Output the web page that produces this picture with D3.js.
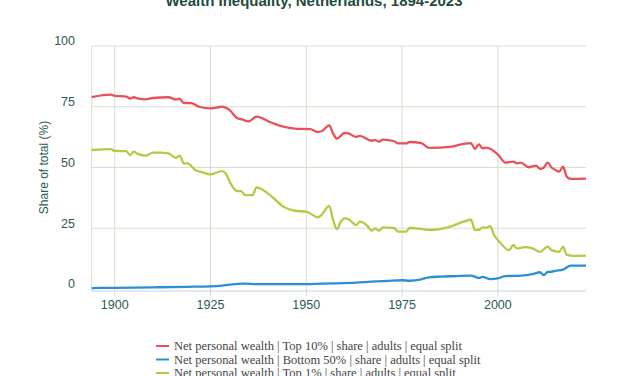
<!DOCTYPE html>
<html><head><meta charset="utf-8">
<script src="https://cdn.jsdelivr.net/npm/d3@7"></script>
<style>
html,body{margin:0;padding:0;background:#fff;}
svg{display:block;}
</style></head>
<body>
<svg id="chart" width="627" height="376"></svg>
<script>
const title = "Wealth Inequality, Netherlands, 1894-2023";
const yAxisTitle = "Share of total (%)";
const yTicks = [0, 25, 50, 75, 100];
const xTicks = [1900, 1925, 1950, 1975, 2000];
const seriesNames = [
  "Net personal wealth | Top 10% | share | adults | equal split",
  "Net personal wealth | Bottom 50% | share | adults | equal split",
  "Net personal wealth | Top 1% | share | adults | equal split"
];
const seriesColors = ["#e9505c", "#2a90d3", "#b5c942"];

const top10 = [
  [1894,79.0],[1899,80.0],[1900,79.5],[1903,79.2],[1904,78.4],[1905,78.9],[1906,78.4],[1908,78.0],
  [1910,78.6],[1914,78.9],[1916,78.0],[1917,78.3],[1918,76.6],[1920,76.5],[1922,75.0],[1925,74.3],
  [1928,75.0],[1930,73.6],[1932,70.3],[1933,69.9],[1935,69.0],[1937,70.9],[1941,68.4],[1944,66.8],
  [1947,66.0],[1951,65.8],[1953,64.6],[1954,64.9],[1956,67.3],[1957,64.0],[1958,61.9],[1960,64.2],
  [1961,64.0],[1963,62.6],[1964,63.0],[1967,61.0],[1968,61.3],[1969,60.6],[1970,61.5],[1973,60.8],
  [1974,59.9],[1976,59.9],[1977,60.5],[1980,60.0],[1982,58.1],[1988,58.6],[1991,59.7],[1993,60.0],
  [1994,57.6],[1995,59.5],[1996,57.9],[1997,58.2],[2000,55.4],[2002,52.0],[2004,52.4],[2005,51.7],
  [2006,52.0],[2008,50.1],[2010,50.8],[2011,49.4],[2012,50.0],[2013,52.0],[2014,50.0],[2015,49.0],
  [2016,48.3],[2017,50.3],[2018,46.2],[2019,45.3],[2023,45.4]
];
const bottom50 = [
  [1894,0.4],[1900,0.5],[1910,0.7],[1919,0.9],[1925,1.1],[1928,1.4],[1930,1.8],[1934,2.2],
  [1937,2.0],[1950,2.0],[1954,2.2],[1957,2.3],[1963,2.6],[1967,3.0],[1971,3.3],[1975,3.6],
  [1977,3.4],[1980,4.0],[1982,4.8],[1985,5.1],[1989,5.3],[1993,5.5],[1994,5.1],[1995,4.5],
  [1996,5.0],[1998,4.1],[2000,4.4],[2002,5.3],[2006,5.5],[2009,6.1],[2011,6.9],[2012,5.7],
  [2013,7.0],[2014,7.1],[2015,7.5],[2017,8.0],[2019,9.6],[2023,9.6]
];
const top1 = [
  [1894,57.2],[1899,57.6],[1900,56.8],[1903,56.7],[1904,55.1],[1905,56.5],[1906,55.6],[1908,54.9],
  [1910,56.1],[1912,56.1],[1914,55.8],[1916,54.0],[1917,54.9],[1918,51.7],[1919,51.7],[1921,49.0],
  [1923,48.0],[1925,47.2],[1928,48.5],[1929,47.5],[1930,44.1],[1932,40.3],[1933,40.3],[1934,38.6],
  [1936,38.6],[1937,41.8],[1941,38.0],[1944,33.9],[1947,32.2],[1950,31.8],[1951,31.1],[1953,29.5],
  [1954,30.5],[1956,34.2],[1957,28.4],[1958,24.6],[1959,27.7],[1960,29.1],[1961,28.7],[1963,26.3],
  [1964,27.7],[1966,25.9],[1967,24.0],[1968,24.9],[1969,24.0],[1970,25.4],[1973,25.0],[1974,23.6],
  [1976,23.6],[1977,25.1],[1980,24.7],[1982,24.3],[1988,25.9],[1991,27.7],[1993,28.5],[1994,24.3],
  [1995,24.3],[1996,25.4],[1997,25.2],[1998,25.9],[1999,22.2],[2000,20.2],[2003,16.0],[2004,18.1],
  [2005,16.7],[2007,17.2],[2009,16.7],[2011,15.3],[2013,17.4],[2014,16.0],[2016,15.3],[2017,17.4],
  [2018,14.0],[2020,13.6],[2023,13.7]
];
const seriesData = [top10, bottom50, top1];

const svg = d3.select("#chart");
const pLeft = 91.7, pRight = 586, pTop = 46, pBottom = 289;
const x = d3.scaleLinear().domain([1894, 2023]).range([pLeft, pRight]);
const y = d3.scaleLinear().domain([0, 100]).range([pBottom, pTop]);

const textColor = "#2c5955";
const gridColor = "#dcdccd";

// title
svg.append("text").attr("x", 314).attr("y", 6).attr("text-anchor", "middle")
  .attr("font-family", "Liberation Sans, Arial, sans-serif").attr("font-weight", "bold")
  .attr("font-size", 15).attr("fill", "#1f4b3e").text(title);

// horizontal gridlines
svg.append("g").selectAll("line").data(yTicks.filter(d => d > 0)).join("line")
  .attr("x1", pLeft).attr("x2", pRight).attr("y1", d => y(d)).attr("y2", d => y(d))
  .attr("stroke", gridColor).attr("stroke-width", 1);

// vertical gridlines
svg.append("g").selectAll("line").data(xTicks).join("line")
  .attr("x1", d => x(d)).attr("x2", d => x(d)).attr("y1", pTop).attr("y2", pBottom + 7)
  .attr("stroke", gridColor).attr("stroke-width", 1);

// left frame
svg.append("line").attr("x1", pLeft).attr("x2", pLeft).attr("y1", pTop).attr("y2", pBottom + 2)
  .attr("stroke", gridColor).attr("stroke-width", 1);

// x axis line
svg.append("line").attr("x1", pLeft).attr("x2", pRight).attr("y1", pBottom + 2).attr("y2", pBottom + 2)
  .attr("stroke", "#c3d2e2").attr("stroke-width", 1);

// y tick labels
svg.append("g").selectAll("text").data(yTicks).join("text")
  .attr("x", 75).attr("y", d => y(d) - 5).attr("dy", "0.35em").attr("text-anchor", "end")
  .attr("font-family", "Liberation Sans, Arial, sans-serif").attr("font-size", 12.5)
  .attr("fill", textColor).text(d => d);

// x tick labels
svg.append("g").selectAll("text").data(xTicks).join("text")
  .attr("x", d => x(d)).attr("y", 305).attr("dy", "0.35em").attr("text-anchor", "middle")
  .attr("font-family", "Liberation Sans, Arial, sans-serif").attr("font-size", 12.5)
  .attr("fill", textColor).text(d => d);

// y axis title
svg.append("text").attr("transform", `translate(44,${(pTop + pBottom) / 2}) rotate(-90)`)
  .attr("text-anchor", "middle").attr("dy", "0.35em")
  .attr("font-family", "Liberation Sans, Arial, sans-serif").attr("font-size", 12)
  .attr("fill", textColor).text(yAxisTitle);

// lines
const line = d3.line().x(d => x(d[0])).y(d => y(d[1])).curve(d3.curveMonotoneX);
svg.append("g").selectAll("path").data(seriesData).join("path")
  .attr("d", line).attr("fill", "none")
  .attr("stroke", (d, i) => seriesColors[i]).attr("stroke-width", 2.3)
  .attr("stroke-linejoin", "round");

// legend
const lg = svg.append("g").selectAll("g").data(seriesNames).join("g")
  .attr("transform", (d, i) => `translate(156,${346 + i * 13.5})`);
lg.append("line").attr("x1", 0).attr("x2", 13).attr("y1", 0).attr("y2", 0)
  .attr("stroke", (d, i) => seriesColors[i]).attr("stroke-width", 2);
lg.append("text").attr("x", 18).attr("y", 0).attr("dy", "0.35em")
  .attr("font-family", "Liberation Serif, Times New Roman, serif").attr("font-size", 12.5)
  .attr("fill", "#444").text(d => d);
</script>
</body></html>
